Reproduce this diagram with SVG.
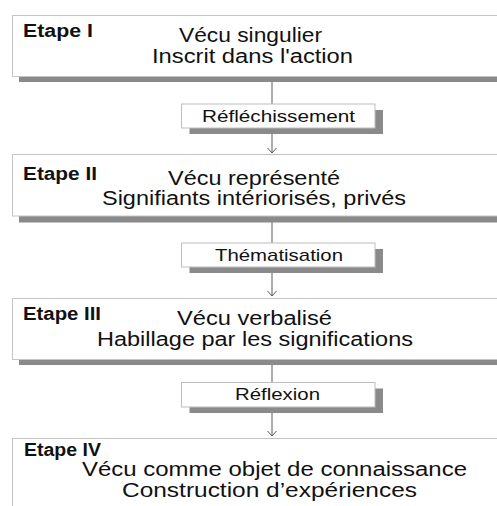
<svg xmlns="http://www.w3.org/2000/svg" width="497" height="506" viewBox="0 0 497 506">
  <defs>
    <style>
      .stage { fill: #ffffff; stroke: #c4c4c4; stroke-width: 1; }
      .shadow { fill: #8a8a8a; }
      .label { fill: #ffffff; stroke: #bdbdbd; stroke-width: 1; }
      .link { stroke: #5a5a5a; stroke-width: 1; fill: none; }
      .title { font-family: "Liberation Sans", Arial, sans-serif; font-weight: bold; font-size: 18px; fill: #111; }
      .body { font-family: "Liberation Sans", Arial, sans-serif; font-size: 20px; fill: #111; }
      .step { font-family: "Liberation Sans", Arial, sans-serif; font-size: 17px; fill: #111; }
    </style>
    <marker id="arrow" markerUnits="userSpaceOnUse" markerWidth="12" markerHeight="12" refX="6" refY="6" orient="auto">
      <path d="M1,1.5 L6,6 L1,10.5" fill="none" stroke="#5a5a5a" stroke-width="1"/>
    </marker>
  </defs>

  <rect width="497" height="506" fill="#ffffff"/>

  <!-- vertical connectors running through the transition labels -->
  <g id="connectors">
    <line class="link" x1="272" y1="82" x2="272" y2="153" marker-end="url(#arrow)"/>
    <line class="link" x1="272" y1="222" x2="272" y2="296" marker-end="url(#arrow)"/>
    <line class="link" x1="272" y1="365" x2="272" y2="436" marker-end="url(#arrow)"/>
  </g>

  <!-- Stage I -->
  <g id="etape-1">
    <rect class="shadow" x="19" y="21" width="500" height="61"/>
    <rect class="stage" x="12.5" y="15.5" width="500" height="61"/>
    <text class="title" x="23" y="37" textLength="70" lengthAdjust="spacingAndGlyphs">Etape I</text>
    <text class="body" x="179" y="42" textLength="143" lengthAdjust="spacingAndGlyphs">Vécu singulier</text>
    <text class="body" x="152" y="63" textLength="201" lengthAdjust="spacingAndGlyphs">Inscrit dans l'action</text>
  </g>

  <!-- transition I -> II -->
  <g id="reflechissement">
    <rect class="shadow" x="189.5" y="110" width="193.5" height="24"/>
    <rect class="label" x="181.5" y="104" width="193.5" height="24"/>
    <text class="step" x="202" y="122" textLength="153" lengthAdjust="spacingAndGlyphs">Réfléchissement</text>
  </g>

  <!-- Stage II -->
  <g id="etape-2">
    <rect class="shadow" x="19" y="161" width="500" height="61.5"/>
    <rect class="stage" x="12.5" y="154.5" width="500" height="61.5"/>
    <text class="title" x="23" y="180" textLength="74" lengthAdjust="spacingAndGlyphs">Etape II</text>
    <text class="body" x="168" y="185" textLength="172" lengthAdjust="spacingAndGlyphs">Vécu représenté</text>
    <text class="body" x="102" y="205" textLength="304" lengthAdjust="spacingAndGlyphs">Signifiants intériorisés, privés</text>
  </g>

  <!-- transition II -> III -->
  <g id="thematisation">
    <rect class="shadow" x="189.5" y="249" width="193.5" height="24"/>
    <rect class="label" x="181.5" y="243" width="193.5" height="24"/>
    <text class="step" x="215" y="261" textLength="128" lengthAdjust="spacingAndGlyphs">Thématisation</text>
  </g>

  <!-- Stage III -->
  <g id="etape-3">
    <rect class="shadow" x="19" y="304" width="500" height="61"/>
    <rect class="stage" x="12.5" y="298.5" width="500" height="61"/>
    <text class="title" x="23" y="320" textLength="78" lengthAdjust="spacingAndGlyphs">Etape III</text>
    <text class="body" x="177" y="325" textLength="155" lengthAdjust="spacingAndGlyphs">Vécu verbalisé</text>
    <text class="body" x="97" y="346" textLength="316" lengthAdjust="spacingAndGlyphs">Habillage par les significations</text>
  </g>

  <!-- transition III -> IV -->
  <g id="reflexion">
    <rect class="shadow" x="189.5" y="388.5" width="193.5" height="24.5"/>
    <rect class="label" x="181.5" y="382.5" width="193.5" height="24.5"/>
    <text class="step" x="235" y="400" textLength="85" lengthAdjust="spacingAndGlyphs">Réflexion</text>
  </g>

  <!-- Stage IV -->
  <g id="etape-4">
    <rect class="stage" x="12.5" y="438.5" width="500" height="80"/>
    <text class="title" x="24" y="456" textLength="77" lengthAdjust="spacingAndGlyphs">Etape IV</text>
    <text class="body" x="82" y="476" textLength="385" lengthAdjust="spacingAndGlyphs">Vécu comme objet de connaissance</text>
    <text class="body" x="122" y="497" textLength="295" lengthAdjust="spacingAndGlyphs">Construction d’expériences</text>
  </g>
</svg>
